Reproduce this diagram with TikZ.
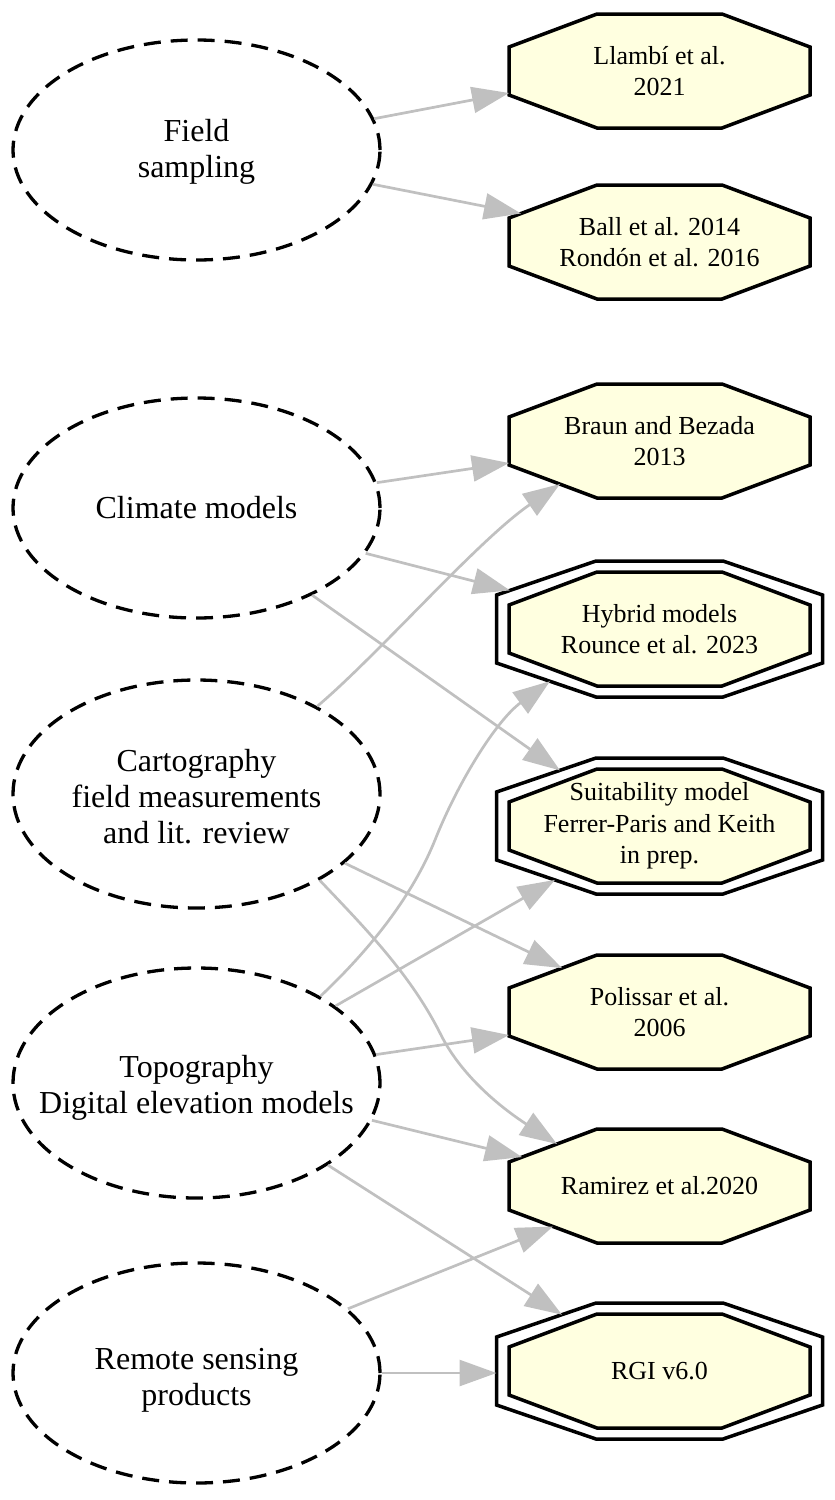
\documentclass[tikz,border=0pt]{standalone}
\usepackage{fontspec}
\setmainfont{Liberation Serif}
\usetikzlibrary{shapes.geometric,arrows.meta,calc}
\definecolor{octfill}{HTML}{FFFFE0}
\definecolor{edgegray}{HTML}{C0C0C0}
\newcommand\octdraw[5]{%
  \draw[#5] ([shift={(-#3pt,#2pt)}]path picture bounding box.center)
    -- ([shift={(#3pt,#2pt)}]path picture bounding box.center)
    -- ([shift={(#1pt,#4pt)}]path picture bounding box.center)
    -- ([shift={(#1pt,-#4pt)}]path picture bounding box.center)
    -- ([shift={(#3pt,-#2pt)}]path picture bounding box.center)
    -- ([shift={(-#3pt,-#2pt)}]path picture bounding box.center)
    -- ([shift={(-#1pt,-#4pt)}]path picture bounding box.center)
    -- ([shift={(-#1pt,#4pt)}]path picture bounding box.center)
    -- cycle;}
\begin{document}
\begin{tikzpicture}[x=1pt,y=-1pt,
  srcell/.style={ellipse, draw=black, line width=3.3pt, dash pattern=on 17pt off 10pt,
    minimum width=367pt, inner sep=0pt},
  srctext/.style={align=center, font=\fontsize{32}{36}\selectfont},
  octline/.style={draw=black, line width=3.5pt, line join=miter},
  octnode/.style={rectangle, inner sep=0pt, minimum width=312pt, minimum height=126pt,
    align=center, font=\fontsize{26}{31.5}\selectfont,
    path picture={\octdraw{150.5}{57}{62.5}{24}{octline, fill=octfill}}},
  dblnode/.style={rectangle, inner sep=0pt, minimum width=338pt, minimum height=148pt,
    align=center, font=\fontsize{26}{31.5}\selectfont,
    path picture={\octdraw{163}{68}{63.5}{34}{octline}%
      \octdraw{150.5}{57}{62.5}{24}{octline, fill=octfill}}},
  link/.style={draw=edgegray, line width=2.7pt, -{Triangle[length=37pt,width=26pt]}}
]
\useasboundingbox (0,0) rectangle (835,1500);

% sources
\node[srcell, minimum height=220pt] (field) at (196.5,150) {};
\node[srctext] (fieldtxt) at ($(field.center)+(0,2)$) {Field\\sampling};
\node[srcell, minimum height=220pt] (climate) at (196.5,508) {};
\node[srctext] (climatetxt) at (climate.center) {Climate models};
\node[srcell, minimum height=228pt] (cart) at (196.5,794) {};
\node[srctext] (carttxt) at ($(cart.center)+(0,3)$) {Cartography\\field measurements\\and lit. review};
\node[srcell, minimum height=230pt] (topo) at (196.5,1083) {};
\node[srctext] (topotxt) at ($(topo.center)+(0,5)$) {Topography\\Digital elevation models};
\node[srcell, minimum height=220pt] (remote) at (196.5,1373) {};
\node[srctext] (remotetxt) at (196.5,1380) {Remote sensing\\products};

% products
\node[octnode] (llambi) at (659.5,71) {Llambí et al.\\2021};
\node[octnode] (ball) at (659.5,242) {Ball et al. 2014\\Rondón et al. 2016};
\node[octnode] (braun) at (659.5,441) {Braun and Bezada\\2013};
\node[dblnode] (hybrid) at (659.5,629) {Hybrid models\\Rounce et al. 2023};
\node[dblnode] (suit) at (659.5,826) {Suitability model\\Ferrer-Paris and Keith\\in prep.};
\node[octnode] (polissar) at (659.5,1012) {Polissar et al.\\2006};
\node[octnode] (ramirez) at (659.5,1186) {Ramirez et al.2020};
\node[dblnode] (rgi) at (659.5,1371) {RGI v6.0};

% connectors
\draw[link] (field.10) -- ($(llambi.center)+(-150.5,22)$);
\draw[link] (field.-11) -- ($(ball.center)+(-138.5,-28.5)$);
\draw[link] (climate.8) -- ($(braun.center)+(-150.5,22)$);
\draw[link] (climate.-15) -- ($(hybrid.center)+(-149.5,-38.6)$);
\draw[link] (climate.-37) -- ($(suit.center)+(-99.5,-55.6)$);
\draw[link] (cart.36) .. controls (378,655) and (478,540) .. ($(braun.center)+(-99.5,43)$);
\draw[link] (cart.-25) -- ($(polissar.center)+(-97.5,-43.9)$);
\coordinate (bendC) at (440,1033);
\draw[link] (cart.-35) .. controls (363,926) and (409.5,972.6) .. (bendC)
  .. controls (463.7,1081.5) and (511.7,1114.6) .. ($(ramirez.center)+(-102.5,-42)$);
\coordinate (bendB) at (435,840);
\draw[link] (topo.35) .. controls (362,957) and (409.5,903) .. (bendB)
  .. controls (459,780) and (497,720) .. ($(hybrid.center)+(-109.5,52.2)$);
\draw[link] (topo.29) -- ($(suit.center)+(-104.5,53.9)$);
\draw[link] (topo.9) -- ($(polissar.center)+(-150.5,23)$);
\draw[link] (topo.-12) -- ($(ramirez.center)+(-137.5,-28.9)$);
\draw[link] (topo.-32) -- ($(rgi.center)+(-97.5,-56.3)$);
\draw[link] (remote.23) -- ($(ramirez.center)+(-106.5,40.5)$);
\draw[link] (remote.0) -- ($(rgi.center)+(-163,2)$);
\end{tikzpicture}
\end{document}
